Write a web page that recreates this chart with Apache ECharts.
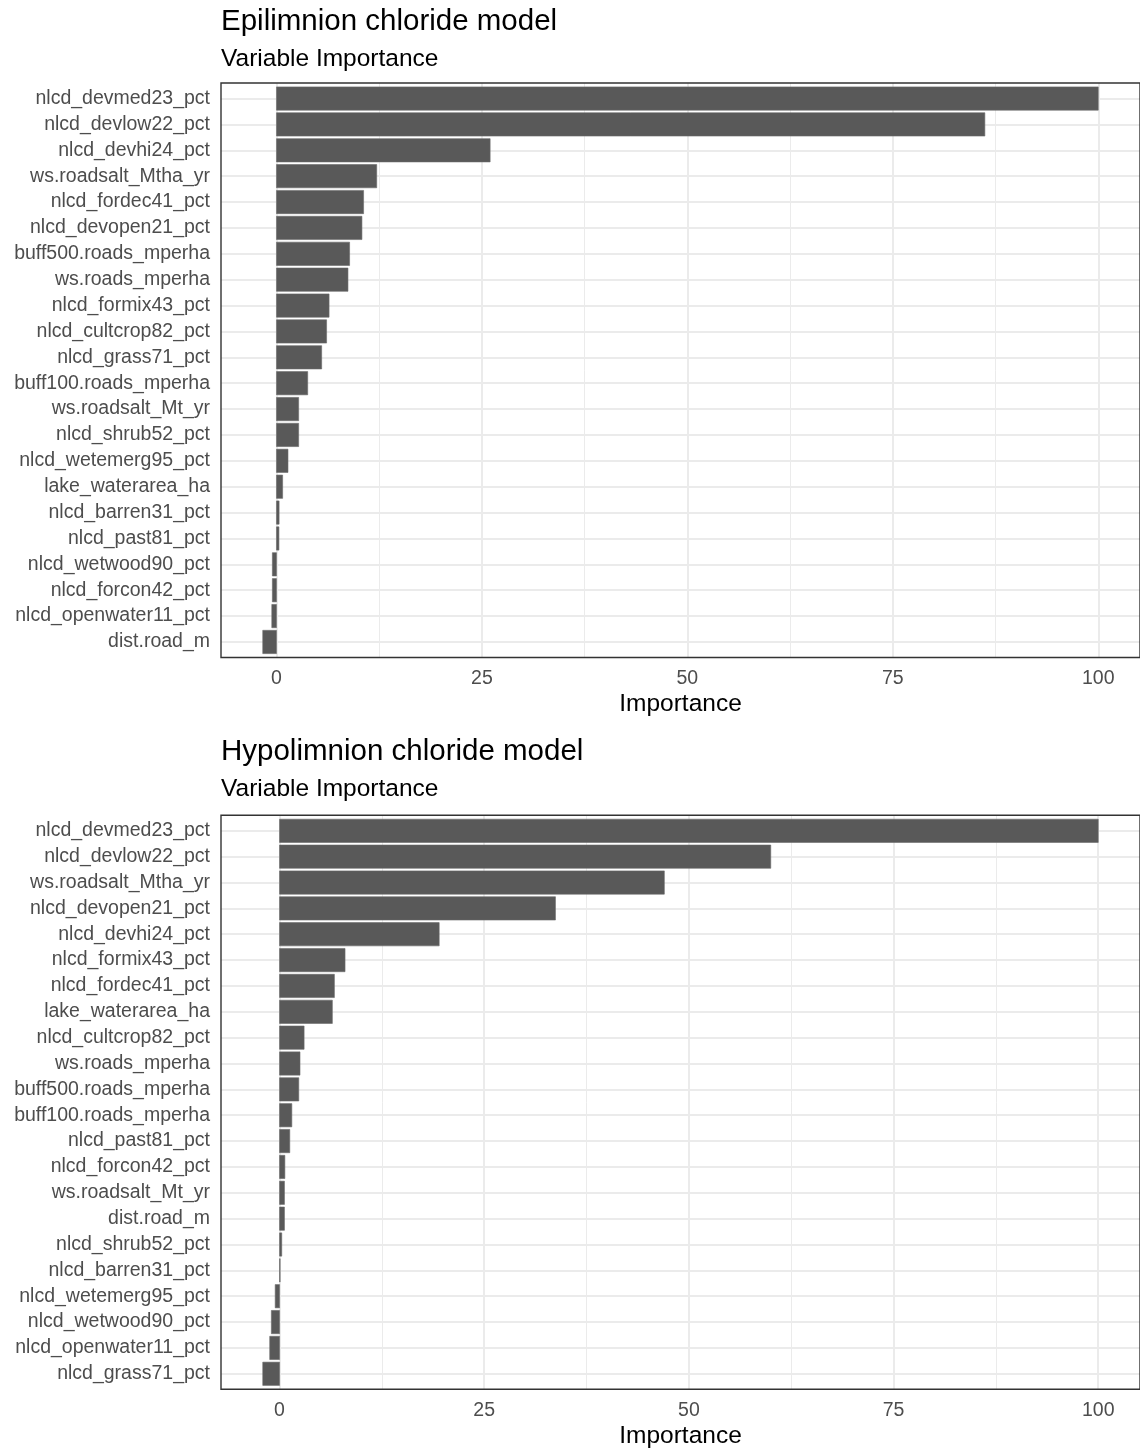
<!DOCTYPE html>
<html>
<head>
<meta charset="utf-8">
<script src="https://cdn.jsdelivr.net/npm/echarts@6/dist/echarts.min.js"></script>
<style>
html,body{margin:0;padding:0;background:#fff;}
#chart{width:1140px;height:1450px;}
</style>
</head>
<body>
<div id="chart"></div>
<script>
// ---- data ----
const epiCategories = [
  'nlcd_devmed23_pct','nlcd_devlow22_pct','nlcd_devhi24_pct','ws.roadsalt_Mtha_yr',
  'nlcd_fordec41_pct','nlcd_devopen21_pct','buff500.roads_mperha','ws.roads_mperha',
  'nlcd_formix43_pct','nlcd_cultcrop82_pct','nlcd_grass71_pct','buff100.roads_mperha',
  'ws.roadsalt_Mt_yr','nlcd_shrub52_pct','nlcd_wetemerg95_pct','lake_waterarea_ha',
  'nlcd_barren31_pct','nlcd_past81_pct','nlcd_wetwood90_pct','nlcd_forcon42_pct',
  'nlcd_openwater11_pct','dist.road_m'
];
const epiValues = [
  100, 86.2, 26.0, 12.2, 10.6, 10.4, 8.9, 8.7, 6.4, 6.1, 5.5, 3.8,
  2.7, 2.7, 1.4, 0.75, 0.32, 0.3, -0.5, -0.5, -0.57, -1.67
];
const hypoCategories = [
  'nlcd_devmed23_pct','nlcd_devlow22_pct','ws.roadsalt_Mtha_yr','nlcd_devopen21_pct',
  'nlcd_devhi24_pct','nlcd_formix43_pct','nlcd_fordec41_pct','lake_waterarea_ha',
  'nlcd_cultcrop82_pct','ws.roads_mperha','buff500.roads_mperha','buff100.roads_mperha',
  'nlcd_past81_pct','nlcd_forcon42_pct','ws.roadsalt_Mt_yr','dist.road_m',
  'nlcd_shrub52_pct','nlcd_barren31_pct','nlcd_wetemerg95_pct','nlcd_wetwood90_pct',
  'nlcd_openwater11_pct','nlcd_grass71_pct'
];
const hypoValues = [
  100, 60.0, 47.0, 33.7, 19.5, 8.0, 6.7, 6.45, 3.0, 2.5, 2.35, 1.5,
  1.25, 0.65, 0.6, 0.6, 0.27, 0.05, -0.53, -1.0, -1.2, -2.05
];
const xTicks = [0, 25, 50, 75, 100];
const xMinor = [12.5, 37.5, 62.5, 87.5];
const panelTitles = ['Epilimnion chloride model', 'Hypolimnion chloride model'];
const panelSubtitle = 'Variable Importance';
const xAxisTitle = 'Importance';

// ---- layout / style ----
const FONT = '"Liberation Sans", Arial, Helvetica, sans-serif';
const panels = [
  {cats: epiCategories, vals: epiValues, top: 83, height: 574.5, right: -2.5, min: -6.75, max: 105.08, titleTop: 7, subTop: 47.2},
  {cats: hypoCategories, vals: hypoValues, top: 815.3, height: 574, right: -2.4, min: -7.15, max: 105.1, titleTop: 737, subTop: 777.2}
];

const grids = [], xAxes = [], yAxes = [], series = [], titles = [];
panels.forEach((p, k) => {
  const n = p.cats.length;
  const idx = p.cats.map((_, i) => i);
  titles.push({text: panelTitles[k], left: 221, top: p.titleTop, padding: 0,
    textStyle: {fontFamily: FONT, fontSize: 29.5, fontWeight: 'normal', color: '#000'}});
  titles.push({text: panelSubtitle, left: 221, top: p.subTop, padding: 0,
    textStyle: {fontFamily: FONT, fontSize: 24.5, fontWeight: 'normal', color: '#000'}});
  grids.push({left: 221, right: p.right, top: p.top, height: p.height, show: true,
    borderColor: '#333333', borderWidth: 1.4, backgroundColor: 'transparent', z: 20});
  xAxes.push({type: 'value', gridIndex: k, min: p.min, max: p.max,
    axisLine: {show: false}, splitLine: {show: false},
    axisTick: {show: true, customValues: xTicks, length: 6, lineStyle: {color: '#333333', width: 2}},
    axisLabel: {customValues: xTicks, margin: 11, fontFamily: FONT, fontSize: 19.5, color: '#4D4D4D'},
    name: xAxisTitle, nameLocation: 'middle', nameGap: 34.5,
    nameTextStyle: {fontFamily: FONT, fontSize: 24.5, color: '#000'}});
  yAxes.push({type: 'value', gridIndex: k, min: -0.6, max: n - 1 + 0.6, inverse: true,
    axisLine: {show: false}, splitLine: {show: false},
    axisTick: {show: true, customValues: idx, length: 6, lineStyle: {color: '#333333', width: 2}},
    axisLabel: {customValues: idx, margin: 11, fontFamily: FONT, fontSize: 19.5, color: '#4D4D4D',
      formatter: v => p.cats[Math.round(v)] || ''}});
  // grid lines through the axes' scales
  const mlData = [];
  xTicks.forEach(v => mlData.push({xAxis: v, lineStyle: {color: '#EBEBEB', width: 2, type: 'solid'}}));
  xMinor.forEach(v => mlData.push({xAxis: v, lineStyle: {color: '#EBEBEB', width: 1, type: 'solid'}}));
  idx.forEach(v => mlData.push({yAxis: v, lineStyle: {color: '#EBEBEB', width: 2, type: 'solid'}}));
  series.push({type: 'line', xAxisIndex: k, yAxisIndex: k, data: [], z: 1, silent: true,
    markLine: {z: 1, silent: true, symbol: ['none', 'none'], label: {show: false}, animation: false, data: mlData}});
  series.push({type: 'custom', xAxisIndex: k, yAxisIndex: k, z: 10,
    data: p.vals.map((v, i) => [v, i]),
    encode: {x: 0, y: 1},
    renderItem: (params, api) => {
      const v = api.value(0), i = api.value(1);
      const a = api.coord([0, i]), b = api.coord([v, i]);
      const h = api.size([0, 0.9])[1];
      const x0 = Math.min(a[0], b[0]);
      return {type: 'rect',
        shape: {x: x0, y: a[1] - h / 2, width: Math.max(Math.abs(b[0] - a[0]), 0.6), height: h},
        style: {fill: '#595959', stroke: '#6a6a6a', lineWidth: 0.6}};
    }});
});

const chart = echarts.init(document.getElementById('chart'), null, {renderer: 'canvas'});
chart.setOption({
  animation: false,
  backgroundColor: '#fff',
  title: titles,
  grid: grids,
  xAxis: xAxes,
  yAxis: yAxes,
  series: series
});
</script>
</body>
</html>
